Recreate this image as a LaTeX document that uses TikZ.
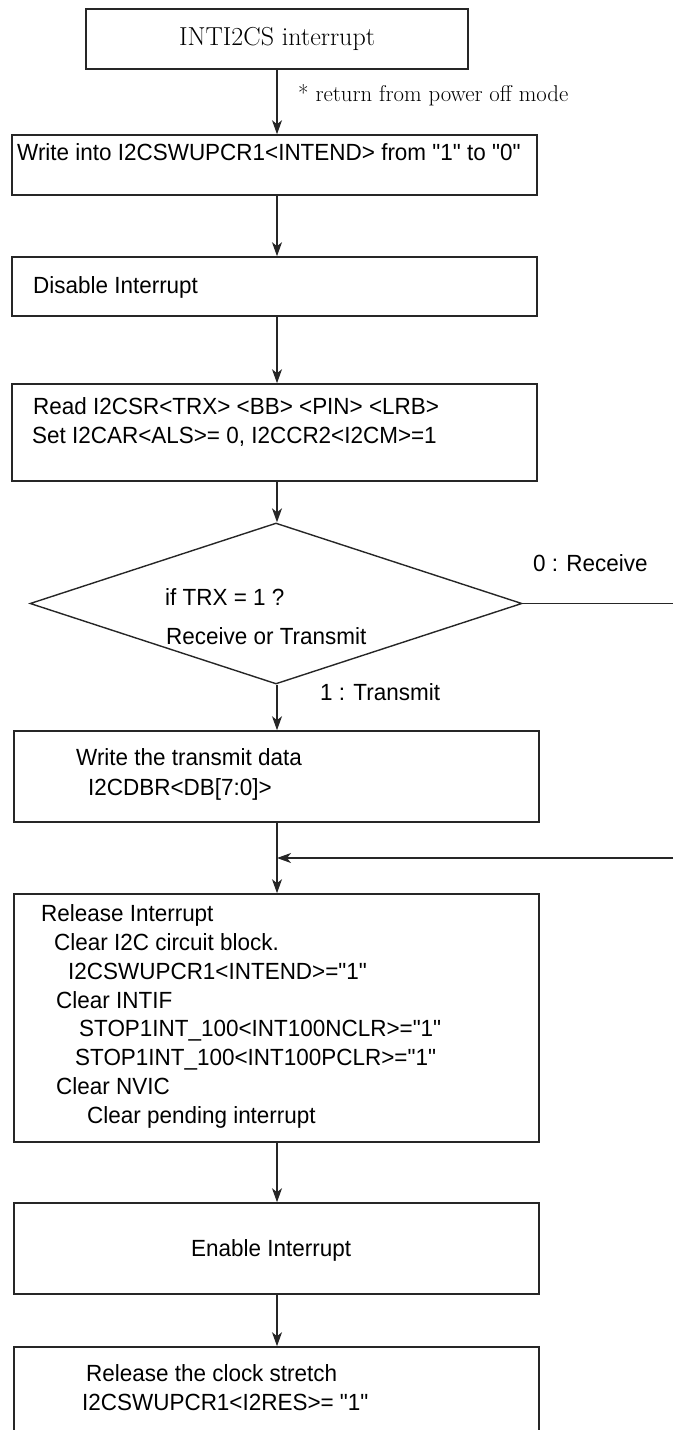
\documentclass[tikz,border=0pt]{standalone}
\usepackage{fontspec}
\newfontfamily\arialf[FakeStretch=0.96]{Liberation Sans}
\usetikzlibrary{arrows.meta,shapes.geometric}
\begin{document}
\begin{tikzpicture}[x=1pt,y=-1pt,
  box/.style={draw=black!85,line width=1.6pt,rectangle,inner sep=0pt},
  lbl/.style={anchor=base west,inner sep=0pt,font=\arialf\fontsize{23.4}{29}\selectfont},
  flow/.style={draw=black!85,line width=1.4pt,-{Stealth[length=14pt,width=10pt,inset=4pt]}},
  plain/.style={draw=black!85,line width=1.4pt}]
\useasboundingbox (0,0) rectangle (673,1430);
\coordinate (cx) at (277,0);
% boxes
\node[box,minimum width=382pt,minimum height=60pt,font=\fontsize{26}{30}\selectfont] (b1) at (277,39) {INTI2CS interrupt};
\node[box,minimum width=525pt,minimum height=60pt] (b2) at (274.5,165) {};
\node[box,minimum width=525pt,minimum height=59pt] (b3) at (274.5,286.5) {};
\node[box,minimum width=525pt,minimum height=97pt] (b4) at (274.5,432.5) {};
\node[draw=black!85,line width=1.4pt,diamond,inner sep=0pt,minimum width=492pt,minimum height=161pt] (d) at (276,603.5) {};
\node[box,minimum width=525pt,minimum height=91pt] (b5) at (276.5,776.5) {};
\node[box,minimum width=525pt,minimum height=248pt] (b6) at (276.5,1018) {};
\node[box,minimum width=525pt,minimum height=91pt] (b7) at (276.5,1248.5) {};
\node[box,minimum width=525pt,minimum height=98pt] (b8) at (276.5,1396) {};
% texts
\node[anchor=base west,inner sep=0pt,font=\fontsize{22.8}{26}\selectfont] (lret) at (298,101) {* return from power off mode};
\node[lbl] (t2) at (17,160) {Write into I2CSWUPCR1<INTEND> from "1" to "0"};
\node[lbl] (t3) at (33,293) {Disable Interrupt};
\node[lbl] (t4a) at (33,414) {Read I2CSR<TRX> <BB> <PIN> <LRB>};
\node[lbl] (t4b) at (32,443) {Set I2CAR<ALS>= 0, I2CCR2<I2CM>=1};
\node[lbl] (td1) at (165,605) {if TRX = 1 ?};
\node[lbl] (td2) at (166,644) {Receive or Transmit};
\node[lbl] (l0) at (533,571) {0 : Receive};
\node[lbl] (l1) at (320,700) {1 : Transmit};
\node[lbl] (t5a) at (76,765) {Write the transmit data};
\node[lbl] (t5b) at (88,795) {I2CDBR<DB[7:0]>};
\node[lbl] (t6a) at (41,921) {Release Interrupt};
\node[lbl] (t6b) at (54,950) {Clear I2C circuit block.};
\node[lbl] (t6c) at (68,979) {I2CSWUPCR1<INTEND>="1"};
\node[lbl] (t6d) at (56,1008) {Clear INTIF};
\node[lbl] (t6e) at (79,1036) {STOP1INT\_100<INT100NCLR>="1"};
\node[lbl] (t6f) at (75,1065) {STOP1INT\_100<INT100PCLR>="1"};
\node[lbl] (t6g) at (56,1094) {Clear NVIC};
\node[lbl] (t6h) at (87,1123) {Clear pending interrupt};
\node[lbl] (t7) at (191,1256) {Enable Interrupt};
\node[lbl] (t8a) at (86,1381) {Release the clock stretch};
\node[lbl] (t8b) at (82,1410) {I2CSWUPCR1<I2RES>= "1"};
% connectors
\draw[flow] (cx |- b1.south) -- (cx |- b2.north);
\draw[flow] (cx |- b2.south) -- (cx |- b3.north);
\draw[flow] (cx |- b3.south) -- (cx |- b4.north);
\draw[flow] (cx |- b4.south) -- (cx |- d.north);
\draw[flow] (cx |- d.south) -- (cx |- b5.north);
\draw[flow] (cx |- b5.south) -- (cx |- b6.north);
\draw[flow] (cx |- b6.south) -- (cx |- b7.north);
\draw[flow] (cx |- b7.south) -- (cx |- b8.north);
\coordinate (r1) at (673,603.5);
\coordinate (r2) at (673,858);
\coordinate (j) at (cx |- r2);
\draw[plain] (d.east) -- (r1);
\draw[flow] (r2) -- (j);
\end{tikzpicture}
\end{document}
